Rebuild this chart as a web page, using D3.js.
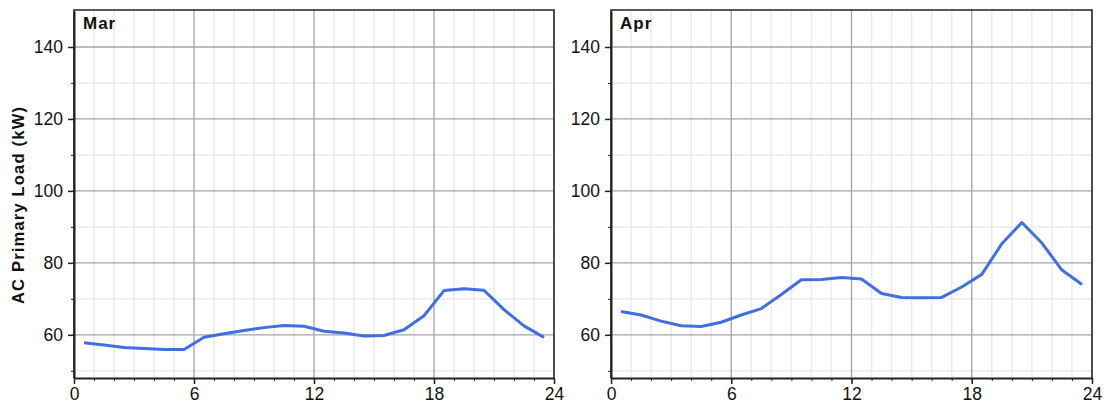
<!DOCTYPE html>
<html>
<head>
<meta charset="utf-8">
<script src="https://cdn.jsdelivr.net/npm/d3@7"></script>
<style>
  body { margin: 0; background: #fff; }
  svg { display: block; }
</style>
</head>
<body>
<svg id="chart" width="1105" height="410"></svg>
<script>
// hour of day (middle of each hour)
var hours = [0.5, 1.5, 2.5, 3.5, 4.5, 5.5, 6.5, 7.5, 8.5, 9.5, 10.5, 11.5,
             12.5, 13.5, 14.5, 15.5, 16.5, 17.5, 18.5, 19.5, 20.5, 21.5, 22.5, 23.5];

var marLoad = [57.8, 57.2, 56.5, 56.2, 55.9, 55.9, 59.3, 60.3, 61.2, 62.0, 62.6, 62.4,
               61.0, 60.5, 59.7, 59.8, 61.4, 65.3, 72.3, 72.8, 72.4, 67.0, 62.5, 59.3];

var aprLoad = [66.5, 65.5, 63.8, 62.5, 62.3, 63.5, 65.5, 67.3, 71.2, 75.3, 75.4, 75.9,
               75.5, 71.5, 70.4, 70.3, 70.4, 73.3, 76.8, 85.3, 91.2, 85.5, 78.0, 74.0];

var months = ["Mar", "Apr"];
var xTicks = [0, 6, 12, 18, 24];
var yTicks = [60, 80, 100, 120, 140];
var yLabel = "AC Primary Load (kW)";

var FONT = "'Liberation Sans', Arial, sans-serif";

var svg = d3.select("#chart"),
    plotTop = 10, plotBottom = 378,
    panels = [
      {name: months[0], values: marLoad, left: 74, right: 554},
      {name: months[1], values: aprLoad, left: 611, right: 1092}
    ];

var y = d3.scaleLinear().domain([48, 150]).range([plotBottom, plotTop + 1]);
var yMinor = d3.range(50, 150, 10);
var xMinor = d3.range(0, 25, 1);

panels.forEach(function(p) {
  var x = d3.scaleLinear().domain([0, 24]).range([p.left, p.right]);
  var g = svg.append("g");

  // minor grid
  g.append("g").selectAll("line")
    .data(xMinor.filter(function(h) { return h % 6 != 0; }))
    .enter().append("line")
      .attr("x1", function(d) { return x(d); }).attr("x2", function(d) { return x(d); })
      .attr("y1", plotTop).attr("y2", plotBottom)
      .attr("stroke", "#ebebeb").attr("stroke-width", 1.5);
  g.append("g").selectAll("line")
    .data(yMinor.filter(function(v) { return v % 20 != 0; }))
    .enter().append("line")
      .attr("x1", p.left).attr("x2", p.right)
      .attr("y1", function(d) { return y(d); }).attr("y2", function(d) { return y(d); })
      .attr("stroke", "#ebebeb").attr("stroke-width", 1.5);

  // major grid
  g.append("g").selectAll("line")
    .data(xTicks.slice(1, -1))
    .enter().append("line")
      .attr("x1", function(d) { return x(d); }).attr("x2", function(d) { return x(d); })
      .attr("y1", plotTop).attr("y2", plotBottom)
      .attr("stroke", "#a3a3a3").attr("stroke-width", 1.3);
  g.append("g").selectAll("line")
    .data(yTicks)
    .enter().append("line")
      .attr("x1", p.left).attr("x2", p.right)
      .attr("y1", function(d) { return y(d); }).attr("y2", function(d) { return y(d); })
      .attr("stroke", "#a3a3a3").attr("stroke-width", 1.3);

  // data line
  var line = d3.line()
      .x(function(d, i) { return x(hours[i]); })
      .y(function(d) { return y(d); });
  g.append("path")
    .datum(p.values)
    .attr("d", line)
    .attr("fill", "none")
    .attr("stroke", "#3f6fe0")
    .attr("stroke-width", 3)
    .attr("stroke-linejoin", "round");

  // frame
  g.append("path")
    .attr("d", "M" + p.left + "," + plotBottom + "V" + plotTop + "H" + p.right + "V" + plotBottom)
    .attr("fill", "none").attr("stroke", "#222").attr("stroke-width", 1.6);

  // minor ticks
  g.append("g")
    .attr("transform", "translate(" + p.left + ",0)")
    .call(d3.axisLeft(y).tickValues(yMinor).tickSize(3).tickFormat(""))
    .call(function(a) { a.select(".domain").remove(); a.selectAll("line").attr("stroke", "#222"); });
  g.append("g")
    .attr("transform", "translate(0," + plotBottom + ")")
    .call(d3.axisBottom(x).tickValues(xMinor).tickSize(3).tickFormat(""))
    .call(function(a) { a.select(".domain").remove(); a.selectAll("line").attr("stroke", "#222"); });

  // major axes
  g.append("g")
    .attr("transform", "translate(" + p.left + ",0)")
    .call(d3.axisLeft(y).tickValues(yTicks).tickSize(6).tickPadding(5).tickSizeOuter(0))
    .call(function(a) {
      a.attr("font-family", FONT).attr("font-size", 17.5);
      a.select(".domain").attr("stroke", "#222").attr("stroke-width", 2);
      a.selectAll("line").attr("stroke", "#222").attr("stroke-width", 1.5);
      a.selectAll("text").attr("fill", "#111");
    });
  g.append("g")
    .attr("transform", "translate(0," + plotBottom + ")")
    .call(d3.axisBottom(x).tickValues(xTicks).tickSize(6).tickPadding(4).tickSizeOuter(0))
    .call(function(a) {
      a.attr("font-family", FONT).attr("font-size", 17.5);
      a.select(".domain").attr("stroke", "#222").attr("stroke-width", 2);
      a.selectAll("line").attr("stroke", "#222").attr("stroke-width", 1.5);
      a.selectAll("text").attr("fill", "#111");
    });

  // month title
  g.append("text")
    .attr("x", p.left + 9)
    .attr("y", plotTop + 19)
    .attr("font-family", FONT)
    .attr("font-size", 17)
    .attr("font-weight", "bold")
    .attr("letter-spacing", 1)
    .attr("fill", "#111")
    .text(p.name);
});

// y axis title
svg.append("text")
  .attr("transform", "translate(24,205) rotate(-90)")
  .attr("text-anchor", "middle")
  .attr("font-family", FONT)
  .attr("font-size", 16.5)
  .attr("font-weight", "bold")
  .attr("letter-spacing", 1.2)
  .attr("fill", "#111")
  .text(yLabel);
</script>
</body>
</html>
